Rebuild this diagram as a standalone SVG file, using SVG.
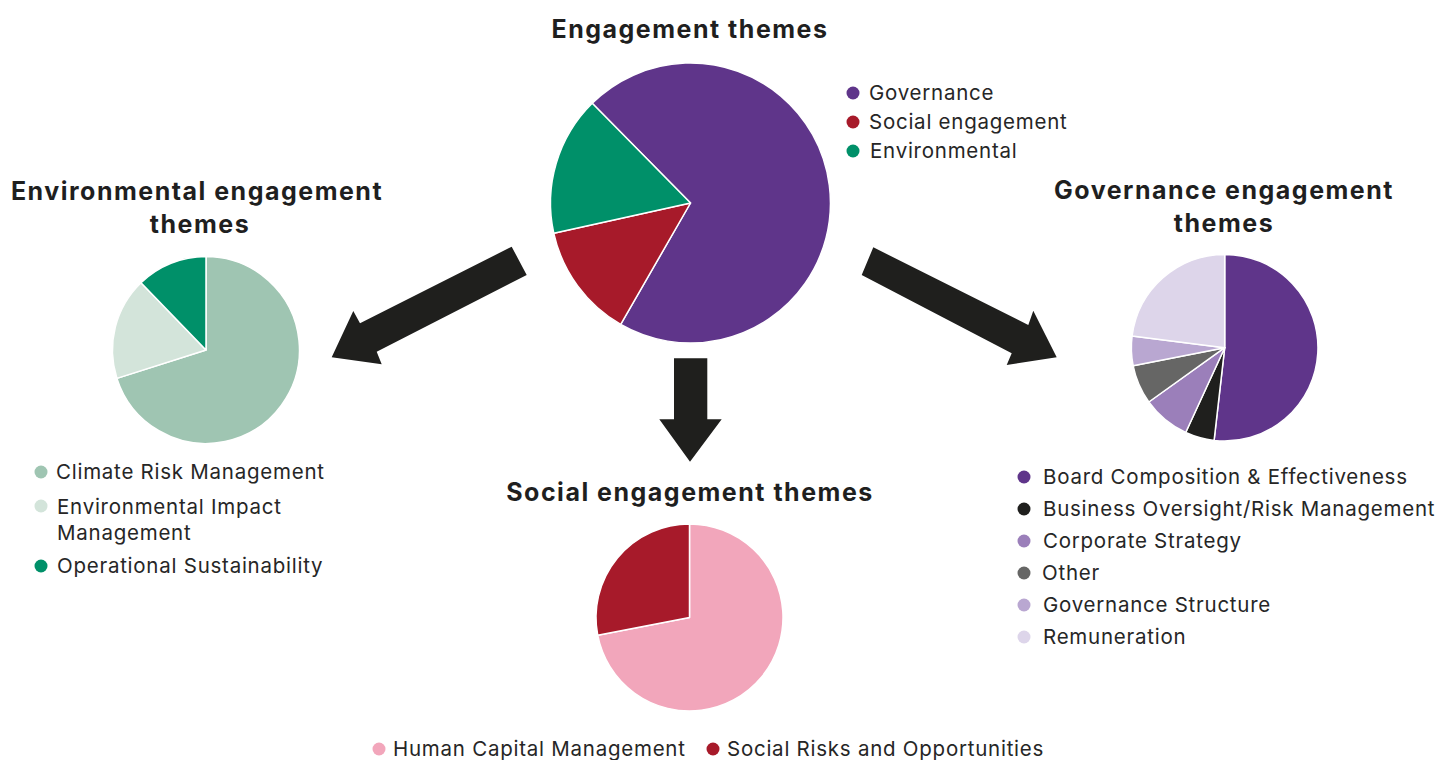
<svg xmlns="http://www.w3.org/2000/svg" width="1441" height="760" viewBox="0 0 1441 760">
<style>
.title{font-family:Inter,"Liberation Sans",sans-serif;font-weight:700;font-size:25px;letter-spacing:1.5px;fill:#1f1f1f;text-anchor:middle}
.lg{font-family:Inter,"Liberation Sans",sans-serif;font-size:20.5px;letter-spacing:0.75px;fill:#262626}
.sl{stroke:#fff;stroke-width:1.5;stroke-linejoin:round}
.arrow{fill:#1f1f1d}
</style>
<rect width="1441" height="760" fill="#fff"/>

<g id="main-pie">
<text class="title" x="690" y="38">Engagement themes</text>
<path class="sl" fill="#5f358a" d="M690.5,203 L592.2,103.3 A140,140 0 1 1 620.7,324.4 Z"/>
<path class="sl" fill="#a71a2a" d="M690.5,203 L620.7,324.4 A140,140 0 0 1 553.8,233.3 Z"/>
<path class="sl" fill="#009069" d="M690.5,203 L553.8,233.3 A140,140 0 0 1 592.2,103.3 Z"/>
<circle cx="853" cy="93" r="6.5" fill="#5f358a"/>
<text class="lg" x="869" y="100">Governance</text>
<circle cx="853" cy="122" r="6.5" fill="#a71a2a"/>
<text class="lg" x="869" y="129">Social engagement</text>
<circle cx="853" cy="151" r="6.5" fill="#009069"/>
<text class="lg" x="870" y="158">Environmental</text>
</g>

<g id="env-pie">
<text class="title" x="197" y="200">Environmental engagement</text>
<text class="title" x="200" y="233">themes</text>
<path class="sl" fill="#9fc5b2" d="M206,350 L206,256.5 A93.5,93.5 0 1 1 116.9,378.4 Z"/>
<path class="sl" fill="#d3e4da" d="M206,350 L116.9,378.4 A93.5,93.5 0 0 1 141,282.7 Z"/>
<path class="sl" fill="#009069" d="M206,350 L141,282.7 A93.5,93.5 0 0 1 206,256.5 Z"/>
<circle cx="41" cy="472" r="6.5" fill="#9fc5b2"/>
<text class="lg" x="56" y="479">Climate Risk Management</text>
<circle cx="41" cy="506" r="6.5" fill="#d3e4da"/>
<text class="lg" x="57" y="514">Environmental Impact</text>
<text class="lg" x="57" y="540">Management</text>
<circle cx="41" cy="566" r="6.5" fill="#009069"/>
<text class="lg" x="57" y="573">Operational Sustainability</text>
</g>

<g id="social-pie">
<text class="title" x="690" y="501">Social engagement themes</text>
<path class="sl" fill="#f2a6bb" d="M689.5,617.5 L689.5,524 A93.5,93.5 0 1 1 597.7,635.2 Z"/>
<path class="sl" fill="#a71a2a" d="M689.5,617.5 L597.7,635.2 A93.5,93.5 0 0 1 689.5,524 Z"/>
<circle cx="379" cy="749" r="6.5" fill="#f2a6bb"/>
<text class="lg" x="393" y="756">Human Capital Management</text>
<circle cx="713" cy="749" r="6.5" fill="#a71a2a"/>
<text class="lg" x="727" y="756">Social Risks and Opportunities</text>
</g>

<g id="gov-pie">
<text class="title" x="1224" y="199">Governance engagement</text>
<text class="title" x="1224" y="232">themes</text>
<path class="sl" fill="#5f358a" d="M1224.7,347.7 L1224.7,254.4 A93.3,93.3 0 1 1 1214.1,440.4 Z"/>
<path class="sl" fill="#1f1f1d" d="M1224.7,347.7 L1214.1,440.4 A93.3,93.3 0 0 1 1185.7,432.5 Z"/>
<path class="sl" fill="#9b7fba" d="M1224.7,347.7 L1185.7,432.5 A93.3,93.3 0 0 1 1148.8,402 Z"/>
<path class="sl" fill="#666665" d="M1224.7,347.7 L1148.8,402 A93.3,93.3 0 0 1 1133.1,365.7 Z"/>
<path class="sl" fill="#b9a7d1" d="M1224.7,347.7 L1133.1,365.7 A93.3,93.3 0 0 1 1132.1,336 Z"/>
<path class="sl" fill="#ddd5ea" d="M1224.7,347.7 L1132.1,336 A93.3,93.3 0 0 1 1224.7,254.4 Z"/>
<circle cx="1024" cy="477" r="6.5" fill="#5f358a"/>
<text class="lg" x="1043" y="484">Board Composition &amp; Effectiveness</text>
<circle cx="1024" cy="509" r="6.5" fill="#1f1f1d"/>
<text class="lg" x="1043" y="516">Business Oversight/Risk Management</text>
<circle cx="1024" cy="541" r="6.5" fill="#9b7fba"/>
<text class="lg" x="1043" y="548">Corporate Strategy</text>
<circle cx="1024" cy="573" r="6.5" fill="#666665"/>
<text class="lg" x="1042" y="580">Other</text>
<circle cx="1024" cy="605" r="6.5" fill="#b9a7d1"/>
<text class="lg" x="1043" y="612">Governance Structure</text>
<circle cx="1024" cy="637" r="6.5" fill="#ddd5ea"/>
<text class="lg" x="1043" y="644">Remuneration</text>
</g>

<g id="connectors">
<polygon class="arrow" points="511.7,246.7 526.7,275 376.7,351.7 381.7,364.3 331.7,357.3 353.3,311 360,323.3"/>
<polygon class="arrow" points="873.3,247.3 861.7,275 1011.7,353.3 1006.7,365 1056.7,357.3 1033.3,310.7 1028.3,325"/>
<polygon class="arrow" points="674,358.3 707.3,358.3 707.3,419.3 721.7,419.3 690,461.7 659.3,419.3 674,419.3"/>
</g>
</svg>
